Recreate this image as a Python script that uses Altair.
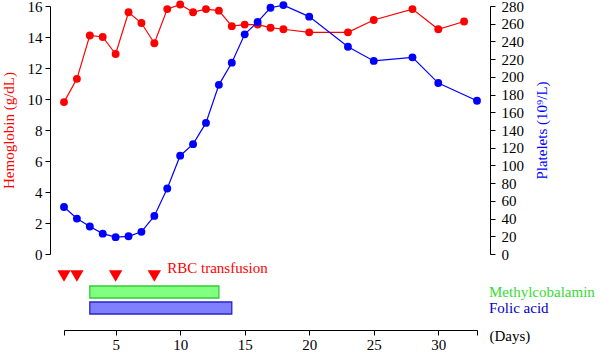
import altair as alt
import pandas as pd

FONT = "Liberation Serif, Times New Roman, Times, serif"

# ---- data ----
hb_days = [1, 2, 3, 4, 5, 6, 7, 8, 9, 10, 11, 12, 13, 14, 15, 16, 17, 18, 20, 23, 25, 28, 30, 32]
hb_vals = [9.8, 11.3, 14.1, 14.0, 12.9, 15.6, 14.9, 13.6, 15.8, 16.1, 15.6, 15.8, 15.7, 14.7,
           14.8, 14.8, 14.6, 14.5, 14.3, 14.3, 15.1, 15.8, 14.5, 15.0]
plt_days = [1, 2, 3, 4, 5, 6, 7, 8, 9, 10, 11, 12, 13, 14, 15, 16, 17, 18, 20, 23, 25, 28, 30, 33]
plt_vals = [53, 40, 31, 23, 19, 20, 25, 43, 74, 111, 124, 148, 191, 216, 248, 262, 278, 281,
            268, 234, 218, 222, 193, 173]
transfusion_days = [1, 2, 5, 8]
transfusion_label = "RBC transfusion"
transfusion_label_day = [9]
drugs = ["Methylcobalamin", "Folic acid"]
drug_start = [3, 3]
drug_end = [13, 14]
x_ticks = [1, 5, 10, 15, 20, 25, 30, 33]
hb_ticks = list(range(0, 17, 2))
plt_ticks = list(range(0, 281, 20))

RED = "#ff0000"
BLUE = "#0000ff"
drug_fill = ["#80ff80", "#8080ff"]
drug_stroke = ["#33cc33", "#2424c8"]
drug_text = ["#33dd33", "#0000cc"]

W = 413
TOP_H = 248
BOT_H = 64

hb = pd.DataFrame({"day": hb_days, "hb": hb_vals})
pl = pd.DataFrame({"day": plt_days, "plt": plt_vals})

xs = alt.Scale(domain=[1, 33], nice=False, zero=False)

# ---- top panel ----
hb_base = alt.Chart(hb).encode(
    x=alt.X("day:Q", scale=xs, axis=None),
    y=alt.Y("hb:Q", scale=alt.Scale(domain=[0, 16], nice=False, zero=True),
            axis=alt.Axis(orient="left", values=hb_ticks, title="Hemoglobin (g/dL)",
                          titleColor=RED, offset=14, tickSize=5, labelPadding=3,
                          titlePadding=11)),
)
red = alt.layer(
    hb_base.mark_line(color=RED, strokeWidth=1.2),
    hb_base.mark_circle(color=RED, size=62, opacity=1),
)

pl_base = alt.Chart(pl).encode(
    x=alt.X("day:Q", scale=xs, axis=None),
    y=alt.Y("plt:Q", scale=alt.Scale(domain=[0, 280], nice=False, zero=True),
            axis=alt.Axis(orient="right", values=plt_ticks, title="Platelets (10⁹/L)",
                          titleColor=BLUE, offset=13, tickSize=5, labelPadding=6,
                          titleAngle=270, titleX=51, titleY=TOP_H / 2,
                          titleAlign="center", titleBaseline="middle")),
)
blue = alt.layer(
    pl_base.mark_line(color=BLUE, strokeWidth=1.2, clip=False),
    pl_base.mark_circle(color=BLUE, size=62, opacity=1, clip=False),
)

top = alt.layer(red, blue).resolve_scale(y="independent").properties(width=W, height=TOP_H)

# ---- bottom panel ----
rows = [transfusion_label] + drugs
ys = alt.Scale(domain=rows, paddingInner=0, paddingOuter=0.5)

x_axis = alt.Axis(values=x_ticks,
                  labelExpr="(datum.value == 1 || datum.value == 33) ? '' : datum.label",
                  offset=6, tickSize=5, labelPadding=2, labelFlush=False,
                  title="(Days)", titleX=W + 12, titleY=5, titleAlign="left",
                  titleBaseline="middle", titleAngle=0)

tri_df = pd.DataFrame({"day": transfusion_days, "row": [transfusion_label] * len(transfusion_days)})
tri = alt.Chart(tri_df).mark_point(shape="triangle-down", filled=True, size=180,
                                   color=RED, opacity=1).encode(
    x=alt.X("day:Q", scale=xs, axis=x_axis),
    y=alt.Y("row:N", scale=ys, axis=None),
)

lab_df = pd.DataFrame({"day": transfusion_label_day, "row": [transfusion_label],
                       "label": [transfusion_label]})
rbc_text = alt.Chart(lab_df).mark_text(align="left", baseline="middle", dy=-8, color=RED,
                                       fontSize=15, font=FONT).encode(
    x=alt.X("day:Q", scale=xs),
    y=alt.Y("row:N", scale=ys, axis=None),
    text="label:N",
)

layers = [tri, rbc_text]
for i, d in enumerate(drugs):
    df = pd.DataFrame({"drug": [d], "start": [drug_start[i]], "end": [drug_end[i]]})
    layers.append(
        alt.Chart(df).mark_bar(size=12, fill=drug_fill[i], stroke=drug_stroke[i],
                               strokeWidth=1.3).encode(
            x=alt.X("start:Q", scale=xs),
            x2="end:Q",
            y=alt.Y("drug:N", scale=ys, axis=None),
        )
    )
    layers.append(
        alt.Chart(df).mark_text(align="left", baseline="middle", color=drug_text[i],
                                fontSize=15, font=FONT).encode(
            x=alt.value(W + 12),
            y=alt.Y("drug:N", scale=ys, axis=None),
            text="drug:N",
        )
    )

bottom = alt.layer(*layers).properties(width=W, height=BOT_H)

chart = alt.vconcat(top, bottom, spacing=6, bounds="flush").properties(
    padding={"left": 1, "top": -1, "right": 0, "bottom": 0}
).configure(font=FONT).configure_view(stroke=None).configure_axis(
    labelFont=FONT, titleFont=FONT, labelFontSize=15, titleFontSize=15,
    domainColor="black", tickColor="black", labelColor="black", grid=False,
    titleFontWeight="normal", domainWidth=1, tickWidth=1,
).configure_text(font=FONT)

chart.save("out.html", embed_options={"renderer": "svg", "actions": False})
